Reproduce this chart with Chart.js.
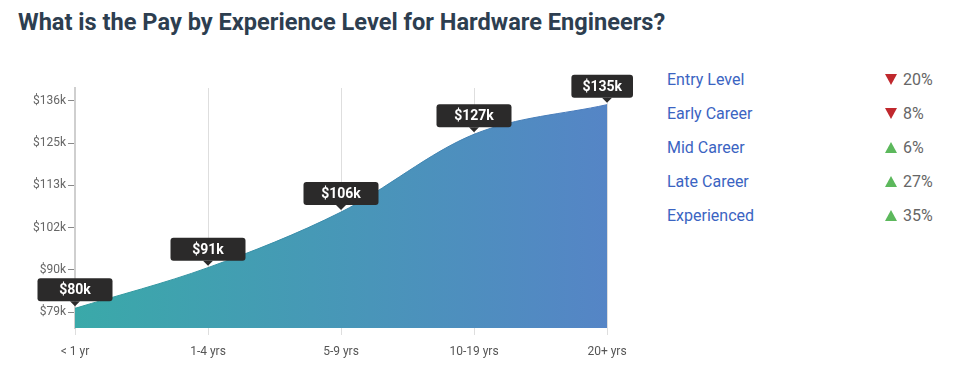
<!DOCTYPE html>
<html>
<head>
<meta charset="utf-8">
<script src="https://cdn.jsdelivr.net/npm/chart.js@4"></script>
<style>
  body { margin: 0; background: #fff; font-family: Roboto, "Open Sans", sans-serif; }
  #wrap { position: relative; width: 953px; height: 368px; overflow: hidden; }
  h2 { position: absolute; left: 18px; top: 8px; margin: 0; font-size: 23.6px; font-weight: 700; color: #2d3e50; }
  #chartBox { position: absolute; left: 0; top: 50px; width: 640px; height: 318px; }
  #legend { position: absolute; left: 667px; top: 69px; width: 280px; }
  .row { position: relative; height: 34px; font-size: 16px; line-height: 22px; }
  .row .lbl { color: #3b64c2; }
  .row .arr { position: absolute; left: 218px; top: 5px; width: 0; height: 0; border-left: 6px solid transparent; border-right: 6px solid transparent; }
  .row .pct { position: absolute; left: 236px; top: 0; color: #666; }
  .arr.down { border-top: 11px solid #c0282d; }
  .arr.up { border-bottom: 11px solid #5cb85c; }
</style>
</head>
<body>
<div id="wrap">
  <h2>What is the Pay by Experience Level for Hardware Engineers?</h2>
  <div id="chartBox"><canvas id="payChart"></canvas></div>
  <div id="legend"></div>
</div>
<script>
// data
const categories = ['< 1 yr', '1-4 yrs', '5-9 yrs', '10-19 yrs', '20+ yrs'];
const payValues = [80, 91, 106, 127, 135]; // in $k
const tickValues = [79, 90.4, 101.8, 113.2, 124.6, 136];
const tickLabels = ['$79k', '$90k', '$102k', '$113k', '$125k', '$136k'];

const levelNames = ['Entry Level', 'Early Career', 'Mid Career', 'Late Career', 'Experienced'];
const levelChanges = [20, 8, 6, 27, 35];
const levelDirections = ['down', 'down', 'up', 'up', 'up'];

// legend kanan
let html = '';
levelNames.forEach((name, i) => {
    html += `
        <div class="row">
            <span class="lbl">${name}</span>
            <span class="arr ${levelDirections[i]}"></span>
            <span class="pct">${levelChanges[i]}%</span>
        </div>`;
});
document.getElementById('legend').innerHTML = html;

// label kotak gelap di atas titik
const valueTags = {
    id: 'valueTags',
    afterDatasetsDraw(chart) {
        const ctx = chart.ctx;
        const meta = chart.getDatasetMeta(0);
        ctx.save();
        ctx.font = 'bold 14px Roboto, sans-serif';
        ctx.textAlign = 'center';
        ctx.textBaseline = 'middle';
        meta.data.forEach((pt, i) => {
            const text = '$' + payValues[i] + 'k';
            const tw = ctx.measureText(text).width;
            let w = 75, h = 23;
            const maxRight = 633;
            let bx = pt.x - w / 2;
            if (bx + w > maxRight) {
                w = tw + 22;
                bx = Math.min(pt.x - w / 2, maxRight - w);
            }
            const by = pt.y - 7 - h;
            ctx.fillStyle = '#2b2a2a';
            ctx.beginPath();
            ctx.roundRect(bx, by, w, h, 3);
            ctx.fill();
            // segitiga kecil
            ctx.beginPath();
            ctx.moveTo(pt.x - 5, by + h);
            ctx.lineTo(pt.x + 5, by + h);
            ctx.lineTo(pt.x, by + h + 5);
            ctx.closePath();
            ctx.fill();
            ctx.fillStyle = '#fff';
            ctx.fillText(text, bx + w / 2, by + h / 2 + 1);
        });
        ctx.restore();
    }
};

const ctx = document.getElementById('payChart').getContext('2d');

new Chart(ctx, {
    type: 'line',
    data: {
        labels: categories,
        datasets: [{
            data: payValues,
            fill: 'start',
            backgroundColor: (c) => {
                const area = c.chart.chartArea;
                if (!area) return '#46a0b4';
                const g = c.chart.ctx.createLinearGradient(area.left, 0, area.right, 0);
                g.addColorStop(0, '#3aa9a9');
                g.addColorStop(1, '#5585c6');
                return g;
            },
            borderColor: (c) => {
                const area = c.chart.chartArea;
                if (!area) return '#3f8fb0';
                const g = c.chart.ctx.createLinearGradient(area.left, 0, area.right, 0);
                g.addColorStop(0, '#2f9c9c');
                g.addColorStop(1, '#4a79bd');
                return g;
            },
            borderWidth: 1,
            pointRadius: 0,
            cubicInterpolationMode: 'monotone'
        }]
    },
    options: {
        responsive: true,
        maintainAspectRatio: false,
        animation: false,
        layout: { padding: { top: 38, right: 33, left: 0, bottom: 0 } },
        plugins: {
            legend: { display: false },
            tooltip: { enabled: false }
        },
        scales: {
            x: {
                z: 1,
                offset: false,
                border: { display: false },
                grid: { color: 'rgba(0,0,0,0.13)', tickLength: 7, drawTicks: true },
                ticks: { color: '#555', font: { size: 12, family: 'Roboto' }, padding: 10, maxRotation: 0 },
                afterFit: (s) => { s.height = 40; }
            },
            y: {
                min: 74.7,
                max: 139.5,
                border: { display: true, color: '#cfcfcf', width: 2 },
                grid: { drawOnChartArea: false, drawTicks: true, tickLength: 7, color: '#888' },
                ticks: {
                    color: '#666',
                    font: { size: 12, family: 'Roboto' },
                    padding: 2,
                    callback: (v) => {
                        const idx = tickValues.indexOf(v);
                        return idx >= 0 ? tickLabels[idx] : '';
                    }
                },
                afterBuildTicks: (s) => { s.ticks = tickValues.map(v => ({ value: v })); },
                afterFit: (s) => { s.width = 75; }
            }
        }
    },
    plugins: [valueTags]
});
</script>
</body>
</html>
